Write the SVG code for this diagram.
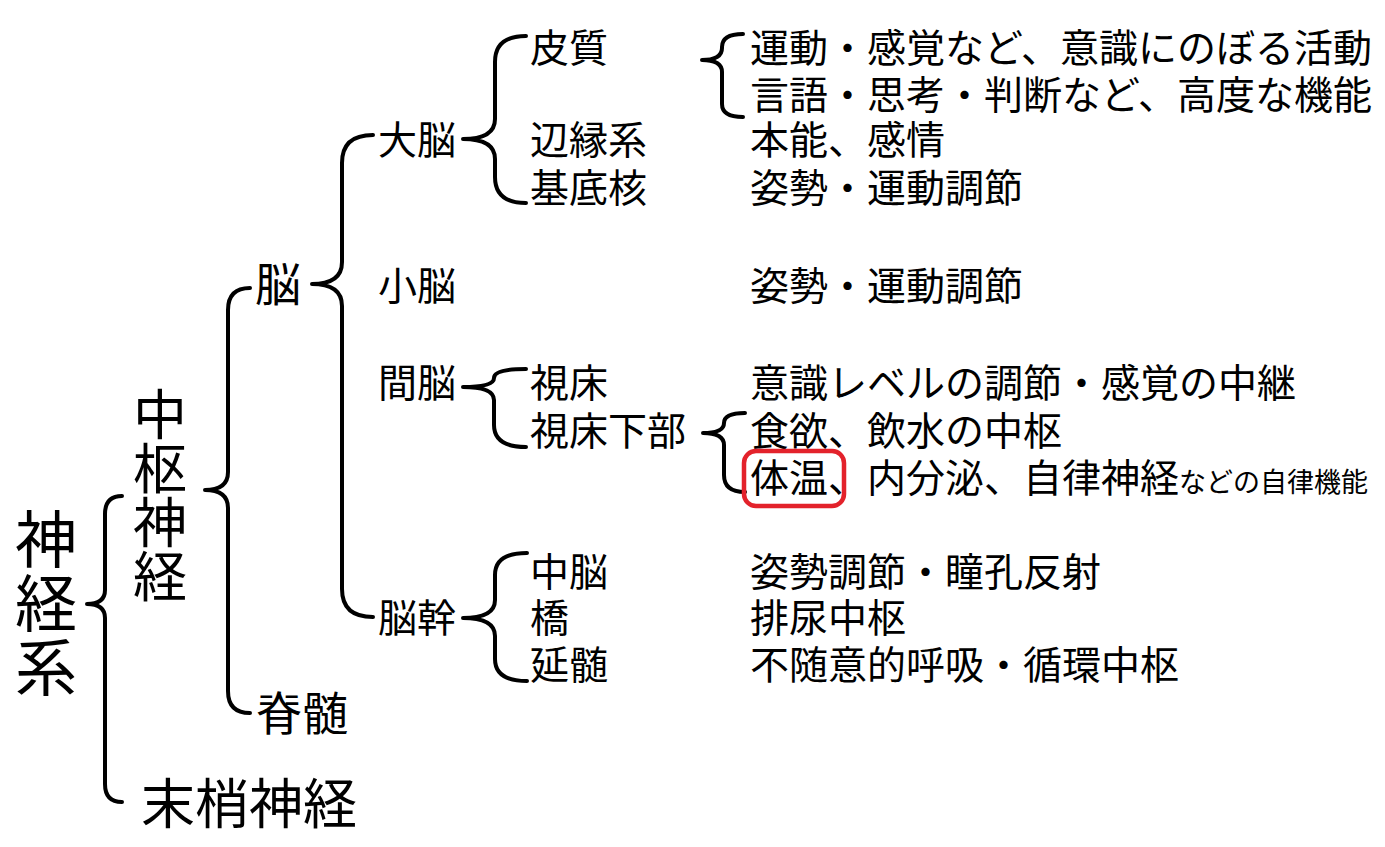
<svg xmlns="http://www.w3.org/2000/svg" width="1385" height="847" viewBox="0 0 1385 847">
<style>
text{font-family:"Noto Sans CJK JP","Noto Sans CJK SC",sans-serif;fill:#000}
.m{font-size:39px}
.s{font-size:27px}
.v{writing-mode:vertical-rl;text-orientation:upright}
.b{fill:none;stroke:#000;stroke-width:4;stroke-linecap:round;stroke-linejoin:round}
</style>
<rect width="1385" height="847" fill="#fff"/>
<g id="connectors">
<path class="b" d="M122,496 Q105,496 105,514 L105,590 Q105,604 87,604 Q105,604 105,618 L105,784 Q105,802 122,802"/>
<path class="b" d="M250,288 Q228,288 228,310 L228,472 Q228,490 205,490 Q228,490 228,508 L228,691 Q228,713 250,713"/>
<path class="b" d="M373,135 Q342,135 342,163 L342,262 Q342,284 312,284 Q342,284 342,306 L342,589 Q342,617 373,617"/>
<path class="b" d="M526,36 Q495,36 495,62 L495,119 Q495,139 463,139 Q495,139 495,159 L495,177 Q495,203 526,203"/>
<path class="b" d="M743,34 Q722,34 722,47 L722,48 Q722,60 702,60 Q722,60 722,72 L722,104 Q722,117 743,117"/>
<path class="b" d="M526,369 Q494,369 494,378 Q494,387 463,387 Q494,387 494,400 L494,425 Q494,447 526,447"/>
<path class="b" d="M745,413 Q724,413 724,423 Q724,433 703,433 Q724,433 724,445 L724,475 Q724,492 745,492"/>
<path class="b" d="M527,553 Q495,553 495,575 L495,600 Q495,618 463,618 Q495,618 495,636 L495,659 Q495,681 527,681"/>
</g>
<g id="shinkeikei"><text class="v" x="46" y="508" style="font-size:62px;letter-spacing:2px">神経系</text></g>
<g id="chusu"><text class="v" x="160" y="387" style="font-size:54px">中枢神経</text></g>
<g id="masho"><text x="141" y="824" style="font-size:54px">末梢神経</text></g>
<g id="no"><text x="255" y="301" style="font-size:46px">脳</text></g>
<g id="sekizui"><text x="256" y="730" style="font-size:46px">脊髄</text></g>
<g id="daino"><text class="m" x="378" y="154">大脳</text></g>
<g id="shono"><text class="m" x="378" y="300">小脳</text></g>
<g id="kanno"><text class="m" x="378" y="397">間脳</text></g>
<g id="nokan"><text class="m" x="378" y="632">脳幹</text></g>
<g id="hishitsu"><text class="m" x="530" y="62">皮質</text></g>
<g id="henen"><text class="m" x="530" y="154">辺縁系</text></g>
<g id="kitei"><text class="m" x="530" y="202">基底核</text></g>
<g id="shisho"><text class="m" x="530" y="397">視床</text></g>
<g id="shishokabu"><text class="m" x="530" y="445">視床下部</text></g>
<g id="chuno"><text class="m" x="530" y="586">中脳</text></g>
<g id="kyo"><text class="m" x="530" y="632">橋</text></g>
<g id="enzui"><text class="m" x="530" y="679">延髄</text></g>
<g id="desc">
<text class="m" x="750" y="62">運動・感覚など、意識にのぼる活動</text>
<text class="m" x="750" y="109">言語・思考・判断など、高度な機能</text>
<text class="m" x="750" y="154">本能、感情</text>
<text class="m" x="750" y="202">姿勢・運動調節</text>
<text class="m" x="750" y="300">姿勢・運動調節</text>
<text class="m" x="750" y="397">意識レベルの調節・感覚の中継</text>
<text class="m" x="750" y="445">食欲、飲水の中枢</text>
<text class="m" x="750" y="492">体温、内分泌、自律神経<tspan class="s">などの自律機能</tspan></text>
<text class="m" x="750" y="586">姿勢調節・瞳孔反射</text>
<text class="m" x="750" y="632">排尿中枢</text>
<text class="m" x="750" y="679">不随意的呼吸・循環中枢</text>
</g>
<g id="highlight"><rect x="744" y="451" width="100" height="55" rx="12" fill="none" stroke="#e3222b" stroke-width="4.5"/></g>
</svg>
